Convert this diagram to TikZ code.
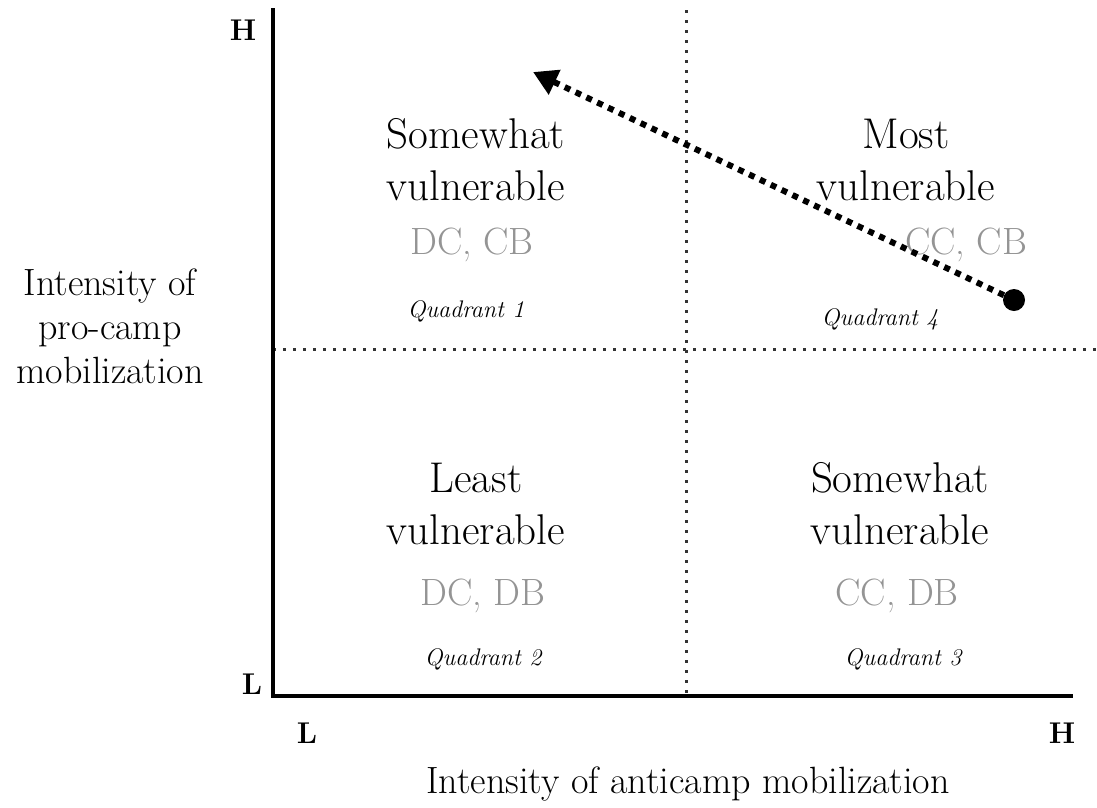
\documentclass[tikz,border=0pt]{standalone}
\usetikzlibrary{arrows.meta}
\colorlet{cellgray}{black!42}

\begin{document}
\begin{tikzpicture}[
  x=1pt, y=-1pt,
  axis/.style={line width=4pt},
  divider/.style={line width=3pt, dash pattern=on 3pt off 7pt, black!80},
  shift arrow/.style={line width=6pt, dash pattern=on 6pt off 6pt,
    -{Triangle[length=24pt,width=26pt]}},
  verdict/.style={align=center, font=\fontsize{43}{52}\selectfont},
  combo/.style={text=cellgray, font=\fontsize{38}{44}\selectfont},
  quad/.style={font=\fontsize{24}{28}\itshape},
  level/.style={font=\fontsize{30}{34}\bfseries},
  axis label/.style={align=center, font=\fontsize{38}{44}\selectfont}
]
\useasboundingbox (0,0) rectangle (1097,807);

\draw[divider] (686,10) -- (686,696);
\draw[divider] (273,349) -- (1097,349);
\draw[axis] (273,8) -- (273,696) -- (1073,696);

\node[level] (yhigh) at (243,30) {H};
\node[level] (ylow) at (252,684) {L};
\node[level] (xlow) at (307,733) {L};
\node[level] (xhigh) at (1062,733) {H};

\node[axis label] (ylabel) at (110,326) {Intensity of\\pro-camp\\mobilization};
\node[axis label] (xlabel) at (688,784) {Intensity of anticamp mobilization};

\node[verdict] (q1) at (476,160) {Somewhat\\vulnerable};
\node[combo] (c1) at (472,245) {DC, CB};
\node[quad] (n1) at (466,311) {Quadrant 1};

\node[verdict] (q4) at (906,160) {Most\\vulnerable};
\node[combo] (c4) at (966,245) {CC, CB};
\node[quad] (n4) at (880,319) {Quadrant 4};

\node[verdict] (q2) at (476,504) {Least\\vulnerable};
\node[combo] (c2) at (483,596) {DC, DB};
\node[quad] (n2) at (483,659) {Quadrant 2};

\node[verdict] (q3) at (900,504) {Somewhat\\vulnerable};
\node[combo] (c3) at (897,596) {CC, DB};
\node[quad] (n3) at (903,659) {Quadrant 3};

\node[circle, fill, inner sep=0pt, minimum size=22pt] (start) at (1014,300) {};
\coordinate (goal) at (533,72);
\draw[shift arrow] (start) -- (goal);
\end{tikzpicture}
\end{document}
